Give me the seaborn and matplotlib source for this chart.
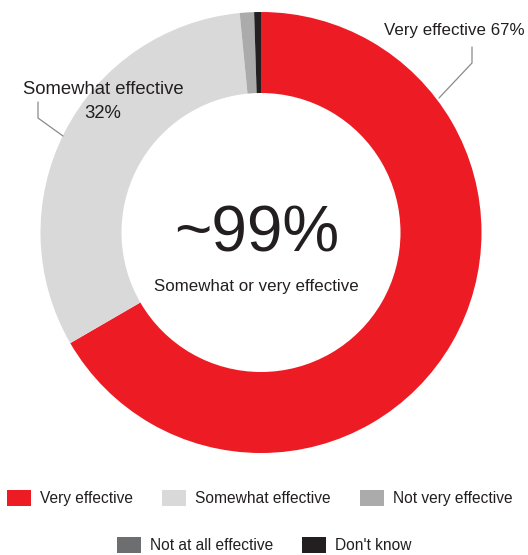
import matplotlib
matplotlib.use("Agg")
import matplotlib.pyplot as plt
from matplotlib.patches import Patch
import seaborn as sns
import pandas as pd

# ---- data ----
categories = ["Very effective", "Somewhat effective", "Not very effective",
              "Not at all effective", "Don't know"]
values = [67, 32, 1.05, 0.0, 0.5]
colors = ["#ED1C24", "#D9D9D9", "#ABABAB", "#6D6E70", "#231F20"]
center_big = "~99%"
center_sub = "Somewhat or very effective"
label_very = "Very effective 67%"
label_some_name = "Somewhat effective"
label_some_pct = "32%"

df = pd.DataFrame({"category": categories, "value": values, "color": colors})

sns.set_theme(style="white")
plt.rcParams["font.family"] = ["Liberation Sans", "DejaVu Sans"]
TXT = "#231F20"

W, H = 528, 555
fig = plt.figure(figsize=(W / 100, H / 100), dpi=100)
ax = fig.add_axes([0, 0, 1, 1])

def Y(y):
    return H - y

cx, cy, R = 261, Y(232.5), 220.5
ax.pie(df["value"], colors=df["color"], startangle=90, counterclock=False,
       center=(cx, cy), radius=R,
       wedgeprops=dict(width=81, linewidth=0))
ax.set_xlim(0, W)
ax.set_ylim(0, H)
ax.set_aspect("equal")
ax.axis("off")

# center text
ax.text(257, Y(234), center_big, ha="center", va="center", fontsize=46, color=TXT)
ax.text(256, Y(286), center_sub, ha="center", va="center", fontsize=12.2, color=TXT)

# outside labels
ax.text(454, Y(31), label_very, ha="center", va="center", fontsize=12.2, color=TXT)
ax.text(103.5, Y(89), label_some_name, ha="center", va="center", fontsize=13.3, color=TXT)
ax.text(102.5, Y(113), label_some_pct, ha="center", va="center", fontsize=13.3, color=TXT)
lc = "#8a8a8a"
ax.plot([472, 472, 439], [Y(47), Y(63), Y(98)], color=lc, lw=0.9)
ax.plot([38, 38, 63], [Y(102), Y(118), Y(136)], color=lc, lw=0.9)

# legend
fs = 11.2
fpx = fs * 100 / 72
handles = [Patch(facecolor=c, edgecolor="none") for c in df["color"]]
kw = dict(frameon=False, fontsize=fs, handlelength=24 / fpx, handleheight=20 / fpx,
          handletextpad=9 / fpx, columnspacing=29 / fpx, borderpad=0,
          borderaxespad=0, labelcolor=TXT, loc="center")
leg1 = fig.legend(handles[:3], categories[:3], ncol=3,
                  bbox_to_anchor=(260 / W, 1 - 498 / H), **kw)
leg2 = fig.legend(handles[3:], categories[3:], ncol=2,
                  bbox_to_anchor=(264 / W, 1 - 545 / H), **kw)

fig.savefig("out.png", dpi=100)
